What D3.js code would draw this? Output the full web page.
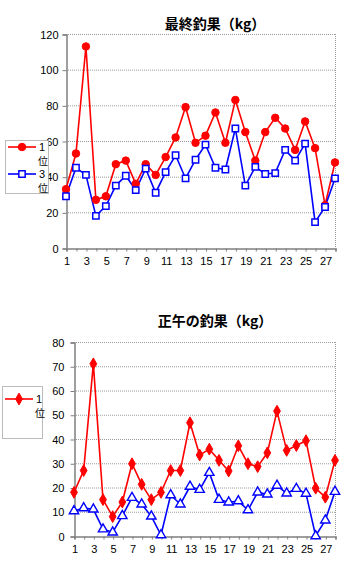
<!DOCTYPE html>
<html><head><meta charset="utf-8">
<script src="https://cdn.jsdelivr.net/npm/d3@7"></script>
<style>body{margin:0;background:#fff}svg{display:block}</style>
</head><body>
<svg id="c" width="355" height="576"></svg>
<script>
const days = d3.range(1, 29);
const xTickLabels = [1,3,5,7,9,11,13,15,17,19,21,23,25,27];
const finalFirst = [33,53,113,27,29,47,49,36,47,41,51,62,79,59,63,76,59,83,65,49,65,73,67,55,71,56,24,48];
const finalThird = [29,45,41,18,23.5,35,40.5,32.5,44.5,31,42.5,52,39,49.5,58,45,44,67,35,45.5,41.5,42,55,49,58.5,14.5,23,39];
const noonFirst = [18,27,71,15,8,14,29.8,21.3,15,18,27,27,46.7,33.4,35.8,31.2,26.8,37.2,29.8,28.6,34.3,51.5,35.3,37.3,39.3,19.7,16,31.2];
const noonThird = [10.3,11.5,11,2.8,1.5,8.3,15.8,13.1,8.1,0.4,16.9,13.1,20.4,19.1,26.1,15,13.9,14.4,10.7,18,17.2,20.8,17.6,19.5,17.5,0,6.5,18.3];
const finalTicks = [0,20,40,60,80,100,120];
const noonTicks = [0,10,20,30,40,50,60,70,80];
const titles = ["最終釣果（kg）", "正午の釣果（kg）"];
const legendLabels = ["1位", "3位"];

const svg = d3.select("#c");
const FONT = "'Liberation Sans', Arial, sans-serif";
const RED = "#ff0000", BLUE = "#0000ff";

function chart(cfg) {
  const g = svg.append("g");
  const x = d3.scaleLinear().domain([1, 28]).range([cfg.left, cfg.right]);
  const y = d3.scaleLinear().domain([0, cfg.ymax]).range([cfg.bottom, cfg.top]);
  g.selectAll(".grid").data(cfg.ticks.filter(t => t > 0)).join("line")
    .attr("x1", cfg.left).attr("x2", cfg.right)
    .attr("y1", d => y(d) + 0.5).attr("y2", d => y(d) + 0.5)
    .attr("stroke", "#9a9a9a").attr("stroke-width", 1).attr("stroke-dasharray", "1,1");
  g.append("line").attr("x1", cfg.right + 0.5).attr("x2", cfg.right + 0.5)
    .attr("y1", cfg.top).attr("y2", cfg.bottom)
    .attr("stroke", "#9a9a9a").attr("stroke-dasharray", "1,1");
  const ya = d3.axisLeft(y).tickValues(cfg.ticks).tickSize(4).tickFormat(d3.format("d"));
  const yg = g.append("g").attr("transform", `translate(${cfg.left + 0.5},0.5)`).call(ya);
  yg.select(".domain").attr("stroke", "#808080").attr("stroke-width", 1.5);
  yg.selectAll(".tick line").attr("stroke", "#808080");
  yg.selectAll("text").attr("font-family", FONT).attr("font-size", 11).attr("fill", "#000").attr("x", cfg.labelOff);
  const xa = d3.axisBottom(x).tickValues(days).tickSize(3)
    .tickFormat(d => xTickLabels.includes(d) ? d : "");
  const xg = g.append("g").attr("transform", `translate(0.5,${cfg.bottom + 0.5})`).call(xa);
  xg.select(".domain").attr("stroke", "#808080").attr("stroke-width", 1.5);
  xg.selectAll(".tick line").attr("stroke", "#808080");
  xg.selectAll("text").attr("font-family", FONT).attr("font-size", 11).attr("fill", "#000").attr("dy", "0.95em");
  g.append("text").attr("x", 215).attr("y", cfg.titleY).attr("text-anchor", "middle")
    .attr("font-family", "'Noto Sans CJK JP', sans-serif").attr("font-weight", "bold")
    .attr("font-size", 14).text(cfg.title);
  const line = d3.line().x((d, i) => x(days[i])).y(d => y(d));
  cfg.series.forEach(s => {
    g.append("path").datum(s.values).attr("d", line).attr("fill", "none")
      .attr("stroke", s.color).attr("stroke-width", 1.6);
  });
  cfg.series.forEach(s => {
    const sym = d3.symbol().type(s.symbol).size(s.size);
    g.selectAll(null).data(s.values).join("path")
      .attr("transform", (d, i) => `translate(${x(days[i])},${y(d)})`)
      .attr("d", sym)
      .attr("fill", s.fill).attr("stroke", s.color).attr("stroke-width", s.sw);
  });
  const lg = g.append("g");
  lg.append("rect").attr("x", cfg.legend.x + 0.5).attr("y", cfg.legend.y + 0.5)
    .attr("width", cfg.legend.w).attr("height", cfg.legend.h)
    .attr("fill", "#fff").attr("stroke", "#777").attr("stroke-dasharray", "1,1");
  cfg.legend.items.forEach((it, i) => {
    const s = cfg.series[i];
    const yy = cfg.legend.y + it.dy;
    lg.append("line").attr("x1", cfg.legend.x + 3).attr("x2", cfg.legend.x + 31)
      .attr("y1", yy).attr("y2", yy).attr("stroke", s.color).attr("stroke-width", 1.6);
    lg.append("path").attr("transform", `translate(${cfg.legend.x + 17},${yy})`)
      .attr("d", d3.symbol().type(s.symbol).size(s.size))
      .attr("fill", s.fill).attr("stroke", s.color).attr("stroke-width", s.sw);
    const lab = legendLabels[i];
    const t = lg.append("text").attr("y", yy + 4)
      .attr("font-family", "'Liberation Sans', 'Noto Sans CJK JP', sans-serif").attr("font-size", 11);
    t.append("tspan").attr("x", cfg.legend.x + 34).text(lab[0]);
    t.append("tspan").attr("x", cfg.legend.x + 33).attr("dy", 13.5).attr("font-size", 10)
      .attr("font-family", "'Noto Sans CJK JP', sans-serif").text(lab.slice(1));
  });
}

chart({
  left: 66, right: 335, top: 34, bottom: 248, ymax: 120, ticks: finalTicks, titleY: 29, labelOff: -8,
  title: titles[0],
  series: [
    {values: finalFirst, color: RED, fill: RED, symbol: d3.symbolCircle, size: 44, sw: 1},
    {values: finalThird, color: BLUE, fill: "#fff", symbol: d3.symbolSquare, size: 40, sw: 1.5}
  ],
  legend: {x: 5, y: 140, w: 43, h: 53, items: [{dy: 7}, {dy: 34}]}
});

chart({
  left: 74, right: 335, top: 342, bottom: 536, ymax: 80, ticks: noonTicks, titleY: 326, labelOff: -10,
  title: titles[1],
  series: [
    {values: noonFirst, color: RED, fill: RED, symbol: d3.symbolDiamond, size: 40, sw: 1},
    {values: noonThird, color: BLUE, fill: "#fff", symbol: d3.symbolTriangle, size: 38, sw: 1.4}
  ],
  legend: {x: 2, y: 386, w: 40, h: 52, items: [{dy: 13}]}
});
</script>
</body></html>
